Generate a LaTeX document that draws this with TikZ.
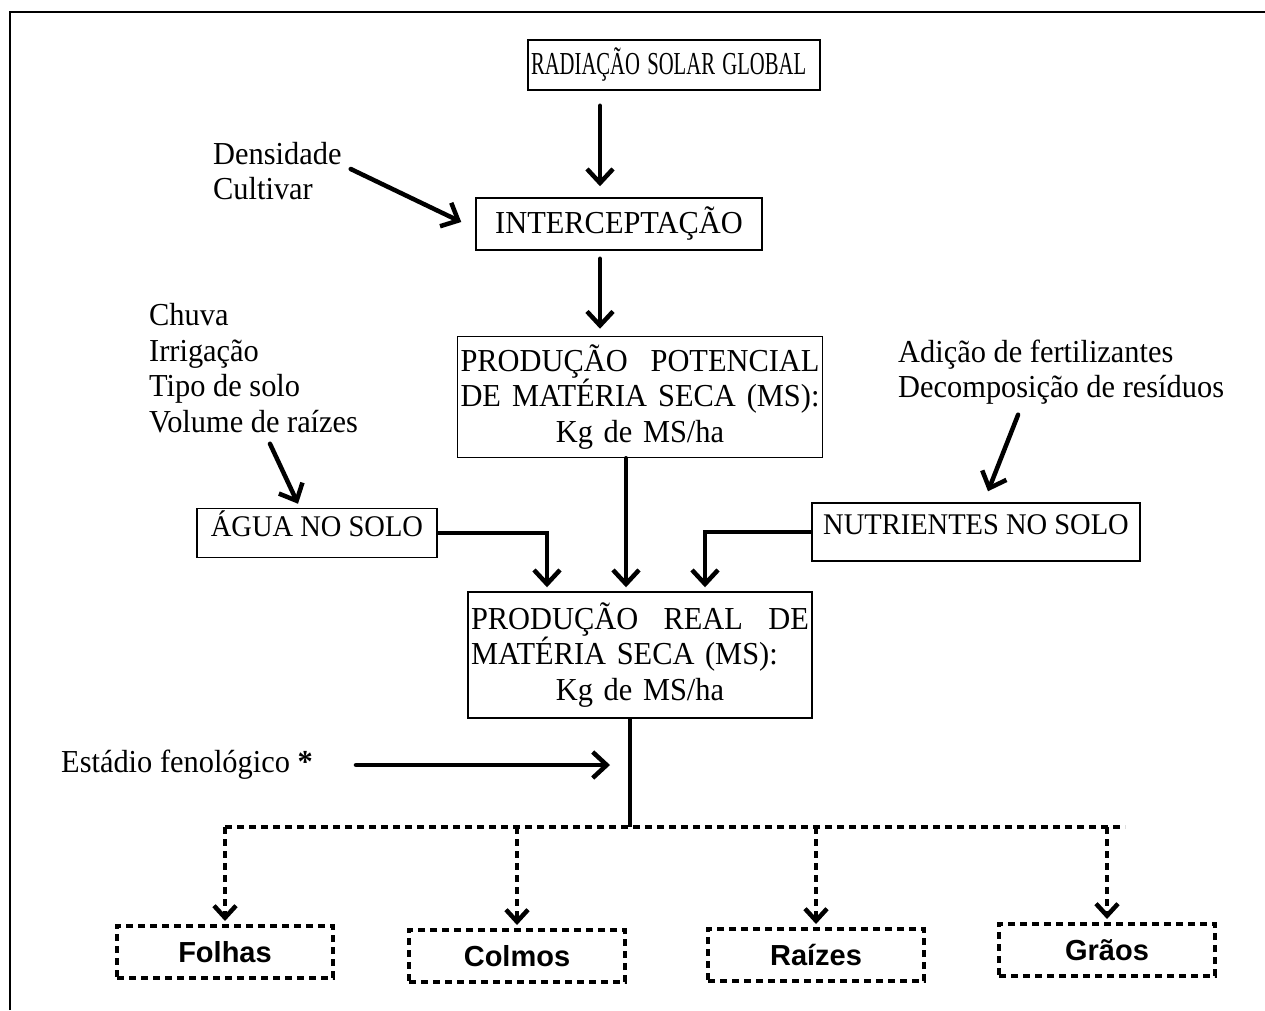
\documentclass[tikz,border=0pt]{standalone}
\usepackage{fontspec}
\setmainfont{Liberation Serif}[FakeStretch=0.95]
\setsansfont{Liberation Sans}
\usepackage{graphicx}
\usepackage{tikz}
\usetikzlibrary{positioning,arrows.meta}

\begin{document}
\begin{tikzpicture}[x=1pt, y=-1pt, inner sep=3pt,
    font=\fontsize{32}{35.5}\selectfont,
    box/.style = {draw, line width=1.5pt},
    small/.style = {font=\fontsize{30}{35.5}\selectfont},
    part/.style = {draw, line width=4pt, dash pattern=on 7pt off 5pt,
        minimum width=216pt, minimum height=52pt,
        font=\fontsize{29}{35}\selectfont\sffamily\bfseries},
    arr/.style = {line width=4.5pt, line cap=round,
        -{Straight Barb[length=14pt,width=26pt]}},
    darr/.style = {line width=4pt, dash pattern=on 7pt off 5pt,
        -{Straight Barb[length=12pt,width=22pt,line width=4.5pt]}},
    note/.style = {align=left, anchor=west}]
    \useasboundingbox (0,0) rectangle (1265,1010);
    \draw[line width=1.8pt] (10,1010) -- (10,12) -- (1265,12);
    % Nodes
    \node[box, text width=286pt, minimum height=50pt, align=left] (rad) at (674,65) {\scalebox{0.68}[1]{RADIAÇÃO SOLAR GLOBAL}};
    \node[box, minimum width=286pt, minimum height=52pt] (int) at (619,224) {INTERCEPTAÇÃO};
    \node[box, text width=359pt, minimum height=121pt, align=left] (pot) at (640,397) {\makebox[359pt]{PRODUÇÃO\hfill POTENCIAL}\\\makebox[359pt]{DE\hfill MATÉRIA\hfill SECA\hfill (MS):}\\\makebox[359pt]{Kg de MS/ha}};
    \node[box, small, minimum width=240pt, text height=24pt, text depth=17pt, inner ysep=4pt] (agua) at (317,533) {ÁGUA NO SOLO};
    \node[box, small, minimum width=328pt, text height=27pt, text depth=23pt, inner ysep=4pt] (nut) at (976,532) {NUTRIENTES NO SOLO};
    \node[box, text width=338pt, minimum height=126pt, align=left] (real) at (640,655) {\makebox[338pt]{PRODUÇÃO\hfill REAL\hfill DE}\\MATÉRIA SECA (MS):\\\makebox[338pt]{Kg de MS/ha}};
    \node[note] (dens) at (210,171) {Densidade\\Cultivar};
    \node[note] (agfat) at (146,368) {Chuva\\Irrigação\\Tipo de solo\\Volume de raízes};
    \node[note] (nutfat) at (895,372) {Adição de fertilizantes\\Decomposição de resíduos};
    \node[note] (est) at (58,765) {Estádio fenológico~\textbf{*}};
    \coordinate (split) at (630,827);
    \node[part] (folhas) at (225,952) {Folhas};
    \node[part] (colmos) at (517,956) {Colmos};
    \node[part] (raizes) at (816,955) {Raízes};
    \node[part] (graos) at (1107,950) {Grãos};
    % Edges
    \draw[arr] ([xshift=-74pt,yshift=-15pt]rad.south) -- ([xshift=-19pt,yshift=11pt]int.north);
    \draw[arr] ([xshift=6pt,yshift=2pt]dens.east) -- ([xshift=-14pt,yshift=2pt]int.west);
    \draw[arr] ([xshift=-19pt,yshift=-8pt]int.south) -- ([xshift=-40pt,yshift=7pt]pot.north);
    \draw[arr] ([xshift=124pt,yshift=-8pt]agfat.south west) -- ([xshift=-19pt,yshift=4pt]agua.north);
    \draw[arr] ([xshift=-43pt,yshift=-7pt]nutfat.south) -- ([xshift=12pt,yshift=11pt]nut.north);
    \draw[arr] ([xshift=-14pt]pot.south) -- ([xshift=-14pt,yshift=4pt]real.north);
    \draw[arr, line cap=butt] (agua.east) -| ([xshift=-93pt,yshift=4pt]real.north);
    \draw[arr, line cap=butt] (nut.west) -| ([xshift=65pt,yshift=4pt]real.north);
    \draw[line width=4.5pt] ([xshift=-10pt]real.south) -- (split);
    \draw[arr] ([xshift=40pt]est.east) -- ([xshift=-20pt,yshift=62pt]split);
    \draw[line width=4pt, dash pattern=on 7pt off 5pt] (folhas.north |- split) -- ([xshift=18pt]graos.north |- split);
    \foreach \p in {folhas,colmos,raizes,graos}
        \draw[darr] (\p.north |- split) -- ([yshift=3pt]\p.north);
\end{tikzpicture}
\end{document}
